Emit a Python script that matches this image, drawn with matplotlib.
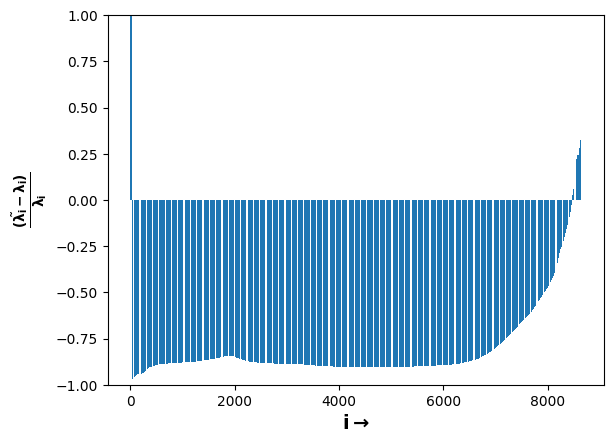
import numpy as np
import matplotlib
matplotlib.use("Agg")
import matplotlib.pyplot as plt

# values (index -> relative error)
spike_value = 5.0   # first bars, clipped above the axes
spike_count = 26
anchor_index = [26, 50, 101, 151, 251, 302, 367, 432, 493, 593, 815, 1066, 1328,
                1519, 1710, 1841, 1901, 1971, 2092, 2223, 2344, 2605, 2987, 3369,
                3621, 4023, 4908, 5361, 5482, 5864, 6125, 6317, 6508, 6689, 6880,
                7081, 7282, 7473, 7664, 7855, 7986, 8107, 8177, 8238, 8298, 8368,
                8429, 8461, 8467, 8474, 8509, 8529, 8549, 8569, 8600, 8615, 8638]
anchor_value = [-0.978, -0.963, -0.952, -0.942, -0.938, -0.921, -0.907, -0.900,
                -0.894, -0.887, -0.884, -0.878, -0.873, -0.864, -0.853, -0.844,
                -0.842, -0.846, -0.860, -0.871, -0.878, -0.884, -0.887, -0.891,
                -0.898, -0.903, -0.903, -0.905, -0.899, -0.896, -0.892, -0.885,
                -0.873, -0.857, -0.826, -0.782, -0.728, -0.668, -0.614, -0.533,
                -0.479, -0.415, -0.352, -0.271, -0.226, -0.145, -0.081, -0.010,
                0.0, 0.033, 0.087, 0.148, 0.220, 0.244, 0.244, 0.325, 0.328]

n_bars = anchor_index[-1] + 1
idx = np.arange(n_bars)
vals = np.interp(idx, anchor_index, anchor_value)
vals[:spike_count] = spike_value

fig, ax = plt.subplots(figsize=(6.4, 4.8), dpi=100)
ax.bar(idx, vals)
ax.set_ylim(-1, 1)
ax.set_xlabel(r'$\mathbf{i \rightarrow}$', fontsize=14)
ax.set_ylabel(r'$\mathbf{\frac{(\tilde{\lambda_i}-\lambda_i)}{\lambda_i}}$', fontsize=14)
fig.savefig("out.png", dpi=100, bbox_inches="tight")
